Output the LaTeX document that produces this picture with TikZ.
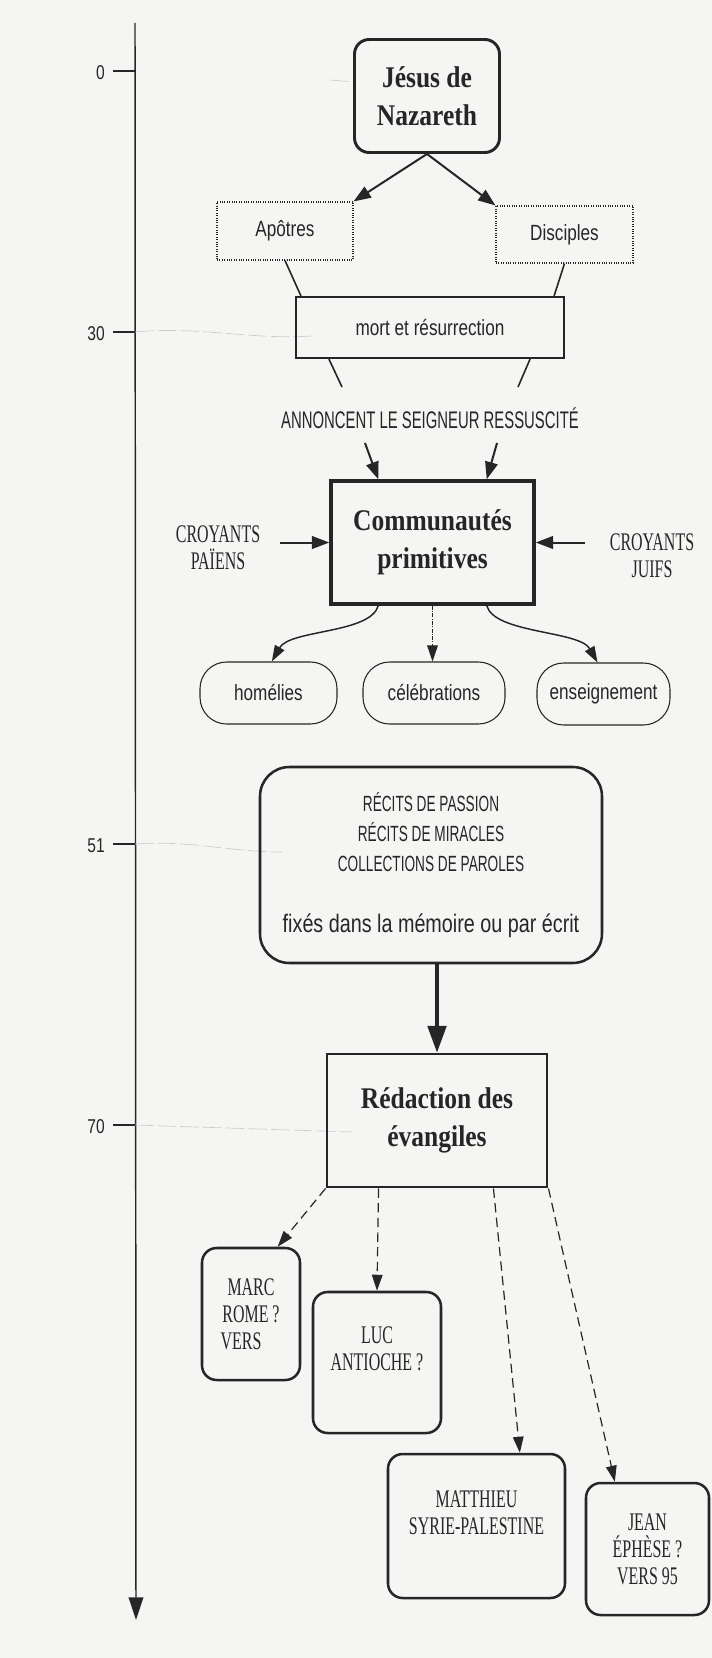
\documentclass[tikz,border=0pt]{standalone}
\usepackage{fontspec}
\usetikzlibrary{arrows.meta, calc, positioning}
\newfontfamily\serifwide[FakeStretch=0.85]{Liberation Serif}
\newfontfamily\serifnarrow[FakeStretch=0.63]{Liberation Serif}
\newfontfamily\sansnarrow[FakeStretch=0.78]{Liberation Sans}
\newfontfamily\sanscond[FakeStretch=0.62]{Liberation Sans}
\newcommand{\titletext}{\serifwide\bfseries\fontsize{22.5}{28.5}\selectfont}
\newcommand{\labeltext}{\sansnarrow\fontsize{16.5}{20}\selectfont}
\newcommand{\yeartext}{\sansnarrow\fontsize{15}{17}\selectfont}
\newcommand{\capstext}{\serifnarrow\fontsize{19}{20.25}\selectfont}
\newcommand{\bannertext}{\sanscond\fontsize{18}{22}\selectfont}
\newcommand{\recitstext}{\sanscond\fontsize{16.5}{22.5}\selectfont}
\newcommand{\fixtext}{\sansnarrow\fontsize{19}{22}\selectfont}
\definecolor{ink}{RGB}{38,38,38}
\definecolor{paper}{RGB}{245,245,244}

\begin{document}
\begin{tikzpicture}[x=0.75pt, y=-0.75pt,
        every node/.style={text=ink},
        title box/.style={draw=ink, align=center, font=\titletext, inner sep=0pt},
        label box/.style={draw=ink, align=center, font=\labeltext, inner sep=0pt},
        gospel box/.style={draw=ink, line width=1.9pt, rounded corners=11pt, align=center, font=\capstext, inner sep=0pt},
        axis/.style={draw=ink, line width=1.1pt, -{Triangle[length=17pt, width=11pt]}},
        tick/.style={draw=ink, line width=2.2pt},
        guide/.style={draw=black!20, line width=0.5pt, dash pattern=on 14pt off 3pt},
        flow/.style={draw=ink, line width=1.5pt, -{Triangle[length=13pt, width=9.5pt]}},
        link/.style={draw=ink, line width=1.2pt},
        branch/.style={draw=ink, line width=1.1pt, -{Triangle[length=12pt, width=8pt]}},
        heavy/.style={draw=ink, line width=2.4pt, -{Triangle[length=20pt, width=14pt]}},
        dashflow/.style={draw=ink, line width=0.9pt, dash pattern=on 7pt off 4pt, -{Triangle[length=12pt, width=8pt]}}
    ]

    \fill[paper] (0,0) rectangle (712,1658);
    \useasboundingbox (0,0) rectangle (712,1658);

    % time axis
    \coordinate (axis top) at (135,23);
    \coordinate (axis end) at (136,1620);
    \draw[axis] (axis top) -- (axis end);
    \foreach \year/\ypos in {0/71, 30/332, 51/844, 70/1125} {
        \draw[tick] (113,\ypos) -- (135,\ypos);
        \node[font=\yeartext, anchor=east, inner sep=0pt] (year\year) at (105,\ypos+2) {\year};
    }
    \draw[guide] (135,332) .. controls (200,326) and (250,340) .. (312,336);
    \draw[guide] (135,844) .. controls (190,840) and (230,852) .. (282,852);
    \draw[guide] (135,1125) -- (352,1132);
    \draw[guide] (330,80) -- (355,82);

    \node[title box, line width=2.2pt, rounded corners=11pt, minimum width=108.75pt, minimum height=84.75pt] (jesus) at (427,96) {Jésus de\\Nazareth};
    \node[label box, densely dotted, line width=0.8pt, minimum width=102pt, minimum height=43.5pt] (apotres) at (285,231) {Apôtres};
    \node[label box, densely dotted, line width=0.8pt, minimum width=102.75pt, minimum height=42.75pt] (disciples) at (564.5,234.5) {Disciples};
    \node[label box, line width=1.6pt, minimum width=201pt, minimum height=45.75pt] (mort) at (430,327.5) {mort et résurrection};
    \node[font=\bannertext, inner sep=0pt] (annonce) at (430,418) {ANNONCENT LE SEIGNEUR RESSUSCITÉ};
    \node[title box, line width=2.6pt, minimum width=152.25pt, minimum height=92.25pt] (comm) at (432.5,542.5) {Communautés\\primitives};
    \node[font=\capstext, align=center, inner sep=0pt] (paiens) at (218,548) {CROYANTS\\PAÏENS};
    \node[font=\capstext, align=center, inner sep=0pt] (juifs) at (652,556) {CROYANTS\\JUIFS};
    \node[label box, line width=0.8pt, rounded corners=20pt, minimum width=102.75pt, minimum height=46.5pt] (homelies) at (268.5,693) {homélies};
    \node[label box, line width=0.8pt, rounded corners=20pt, minimum width=106.5pt, minimum height=46.5pt] (celebrations) at (434,693) {célébrations};
    \node[label box, line width=0.8pt, rounded corners=20pt, minimum width=99.75pt, minimum height=46.5pt] (enseignement) at (603.5,694) {enseignement};
    \node[draw=ink, line width=1.9pt, rounded corners=22pt, minimum width=256.5pt, minimum height=147pt, align=center, font=\recitstext, inner sep=0pt] (recits) at (431,865)
        {RÉCITS DE PASSION\\RÉCITS DE MIRACLES\\COLLECTIONS DE PAROLES\\[23pt]{\fixtext fixés dans la mémoire ou par écrit}};
    \node[title box, line width=2.2pt, minimum width=165pt, minimum height=99.75pt] (redaction) at (437,1120.5) {Rédaction des\\évangiles};
    \node[gospel box, minimum width=73.5pt, minimum height=99pt] (marc) at (251,1314) {MARC\\ROME ?\\VERS\phantom{~70}};
    \node[gospel box, minimum width=96pt, minimum height=105.75pt] (luc) at (377,1362.5) {LUC\\ANTIOCHE ?\\\phantom{VERS}};
    \node[gospel box, minimum width=132.75pt, minimum height=108pt] (matthieu) at (476.5,1526) {MATTHIEU\\SYRIE-PALESTINE\\\phantom{VERS}};
    \node[gospel box, minimum width=92.25pt, minimum height=99pt] (jean) at (647.5,1549) {JEAN\\ÉPHÈSE ?\\VERS 95};

    \draw[flow] (jesus.south) -- (apotres.north east);
    \draw[flow] (jesus.south) -- (disciples.north west);
    \draw[link] (apotres.south) -- ([xshift=4.5pt]mort.north west);
    \draw[link] (disciples.south) -- ([xshift=-8.25pt]mort.north east);

    \coordinate (left foot) at (342,387);
    \coordinate (right foot) at (518,387);
    \draw[link] ([xshift=25.5pt]mort.south west) -- (left foot);
    \draw[link] ([xshift=-26.25pt]mort.south east) -- (right foot);
    \coordinate (left start) at (365,443);
    \coordinate (right start) at (497,443);
    \draw[flow] (left start) -- ([xshift=36.75pt]comm.north west);
    \draw[flow] (right start) -- ([xshift=-36.75pt]comm.north east);
    \draw[flow] ([xshift=-36.75pt]comm.west) -- (comm.west);
    \draw[flow] ([xshift=36.75pt]comm.east) -- (comm.east);

    \draw[branch] ([xshift=36.75pt]comm.south west) .. controls +(-8,28) and +(18,-32) .. ([xshift=2.5pt]homelies.north);
    \draw[branch, line width=0.7pt, densely dashdotted] (comm.south) -- (comm.south |- celebrations.north);
    \draw[branch] ([xshift=-36.75pt]comm.south east) .. controls +(8,28) and +(-18,-32) .. ([xshift=-4.5pt]enseignement.north);

    \draw[heavy] (redaction.north |- recits.south) -- (redaction.north);

    \draw[dashflow] (redaction.south west) -- ([xshift=20pt]marc.north);
    \draw[dashflow] ([xshift=39.75pt]redaction.south west) -- (luc.north);
    \draw[dashflow] ([xshift=-41.25pt]redaction.south east) -- ([xshift=32.5pt]matthieu.north);
    \draw[dashflow] (redaction.south east) -- ([xshift=-24.5pt]jean.north);
\end{tikzpicture}
\end{document}
